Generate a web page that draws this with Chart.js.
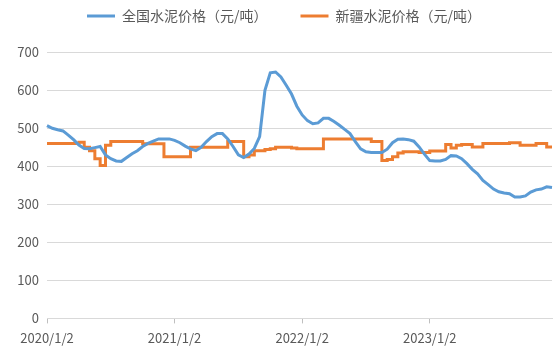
<!DOCTYPE html>
<html>
<head>
<meta charset="utf-8">
<script src="https://cdn.jsdelivr.net/npm/chart.js@4.4.1/dist/chart.umd.min.js"></script>
<style>
  html, body { margin: 0; padding: 0; background: #ffffff; }
  #wrap { width: 560px; height: 352px; }
</style>
</head>
<body>
<div id="wrap"><canvas id="chart-cement" width="560" height="352"></canvas></div>
<script>
// half-month categories, 2020/1/2 .. 2023/12/16
const dates = [
  "2020/1/2","2020/1/16","2020/2/2","2020/2/16","2020/3/2","2020/3/16","2020/4/2","2020/4/16","2020/5/2","2020/5/16","2020/6/2","2020/6/16",
  "2020/7/2","2020/7/16","2020/8/2","2020/8/16","2020/9/2","2020/9/16","2020/10/2","2020/10/16","2020/11/2","2020/11/16","2020/12/2","2020/12/16",
  "2021/1/2","2021/1/16","2021/2/2","2021/2/16","2021/3/2","2021/3/16","2021/4/2","2021/4/16","2021/5/2","2021/5/16","2021/6/2","2021/6/16",
  "2021/7/2","2021/7/16","2021/8/2","2021/8/16","2021/9/2","2021/9/16","2021/10/2","2021/10/16","2021/11/2","2021/11/16","2021/12/2","2021/12/16",
  "2022/1/2","2022/1/16","2022/2/2","2022/2/16","2022/3/2","2022/3/16","2022/4/2","2022/4/16","2022/5/2","2022/5/16","2022/6/2","2022/6/16",
  "2022/7/2","2022/7/16","2022/8/2","2022/8/16","2022/9/2","2022/9/16","2022/10/2","2022/10/16","2022/11/2","2022/11/16","2022/12/2","2022/12/16",
  "2023/1/2","2023/1/16","2023/2/2","2023/2/16","2023/3/2","2023/3/16","2023/4/2","2023/4/16","2023/5/2","2023/5/16","2023/6/2","2023/6/16",
  "2023/7/2","2023/7/16","2023/8/2","2023/8/16","2023/9/2","2023/9/16","2023/10/2","2023/10/16","2023/11/2","2023/11/16","2023/12/2","2023/12/16"
];

const shownDates = ["2020/1/2", "2021/1/2", "2022/1/2", "2023/1/2"];
const yTicks = [0, 100, 200, 300, 400, 500, 600, 700];

const seriesNames = ["全国水泥价格（元/吨）", "新疆水泥价格（元/吨）"];

// 全国 (national)
const nationalPrice = [
  507, 500, 496, 493, 482, 470, 456, 447, 446, 449,
  452, 430, 420, 414, 413, 423, 433, 441, 452, 460,
  466, 472, 472, 472, 468, 462, 453, 446, 441, 450,
  465, 478, 486, 486, 472, 452, 430, 423, 432, 447,
  478, 600, 646, 648, 635, 613, 590, 558, 535, 520,
  512, 514, 526, 526, 518, 508, 497, 486, 465, 446,
  438, 436, 436, 436, 445, 462, 471, 472, 470, 466,
  451, 432, 415, 414, 414, 418, 428, 427, 420, 407,
  392, 380, 363, 352, 340, 333, 330, 328, 319, 319,
  322, 332, 338, 340, 346, 344
];

// 新疆 (Xinjiang)
const xinjiangPrice = [
  460, 460, 460, 460, 460, 460, 463, 450, 441, 420,
  402, 455, 465, 465, 465, 465, 465, 465, 459, 459,
  459, 459, 425, 425, 425, 425, 425, 450, 450, 450,
  450, 450, 450, 450, 465, 465, 465, 425, 430, 441,
  441, 444, 446, 450, 450, 450, 448, 446, 446, 446,
  446, 446, 472, 472, 472, 472, 472, 472, 472, 472,
  472, 465, 465, 415, 418, 425, 435, 438, 438, 438,
  436, 436, 440, 440, 440, 457, 448, 455, 457, 457,
  451, 451, 460, 460, 460, 460, 460, 462, 462, 455,
  455, 455, 460, 460, 451, 451
];

const BLUE   = "#5b9bd5";
const ORANGE = "#ed7d31";
const GRID   = "#d9d9d9";
const TEXT   = "#595959";
const FONT   = "'Noto Sans CJK SC', 'Noto Sans', sans-serif";

new Chart(document.getElementById("chart-cement"), {
  type: "line",
  data: {
    labels: dates,
    datasets: [
      {
        label:           seriesNames[0],
        data:            nationalPrice,
        borderColor:     BLUE,
        backgroundColor: BLUE,
        borderWidth:     3,
        pointRadius:     0,
        pointStyle:      "line",
        tension:         0,
      },
      {
        label:           seriesNames[1],
        data:            xinjiangPrice,
        borderColor:     ORANGE,
        backgroundColor: ORANGE,
        borderWidth:     3,
        pointRadius:     0,
        pointStyle:      "line",
        stepped:         true,
      },
    ],
  },
  options: {
    responsive: false,
    animation:  false,
    devicePixelRatio: 1,
    layout: { padding: { top: -24, right: 8, bottom: -1, left: 16 } },
    plugins: {
      legend: {
        display:  true,
        position: "top",
        weight:   3000,
        labels: {
          color:           TEXT,
          font:            { family: FONT, size: 14 },
          usePointStyle:   true,
          pointStyleWidth: 28,
          padding:         33,
        },
      },
      // empty spacer between legend and plot
      title: {
        display: true,
        text:    "",
        padding: 0,
        font:    { size: 16 },
      },
      tooltip: { enabled: false },
    },
    scales: {
      x: {
        type: "category",
        offset: false,
        border: { display: true, color: GRID, width: 1 },
        grid: {
          drawOnChartArea: false,
          drawTicks:       true,
          tickLength:      5,
          color:           "#bfbfbf",
        },
        ticks: {
          autoSkip:    false,
          maxRotation: 0,
          minRotation: 0,
          padding:     7,
          color:       TEXT,
          font:        { family: FONT, size: 13 },
          callback: function (v) {
            const lab = this.getLabelForValue(v);
            return shownDates.includes(lab) ? lab : null;
          },
        },
      },
      y: {
        min: yTicks[0],
        max: yTicks[yTicks.length - 1],
        border: { display: false },
        grid: { color: GRID, lineWidth: 1, drawTicks: false },
        afterBuildTicks: (scale) => { scale.ticks = yTicks.map((v) => ({ value: v })); },
        afterFit: (scale) => { scale.width = 31; },
        ticks: {
          padding: 8,
          color:   TEXT,
          font:    { family: FONT, size: 13 },
        },
      },
    },
  },
});
</script>
</body>
</html>
